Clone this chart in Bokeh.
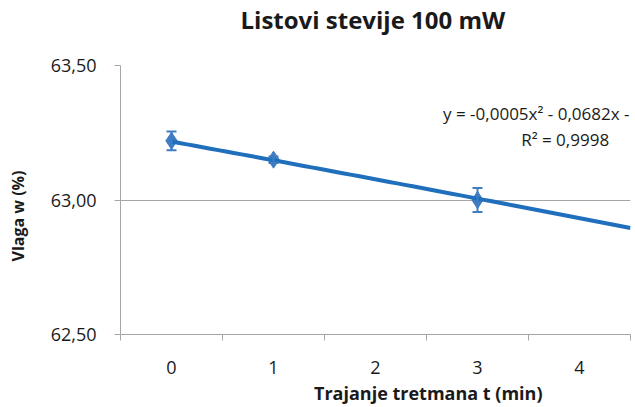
import numpy as np
from bokeh.plotting import figure
from bokeh.models import (Range1d, FixedTicker, ColumnDataSource, Whisker, TeeHead, Label, Title)
from bokeh.embed import file_html
from bokeh.resources import INLINE

# ---- data ----
t_min = [0, 1, 3]
moisture = [63.22, 63.15, 63.00]
moisture_err = [0.035, 0.012, 0.045]
x_categories = ["0", "1", "2", "3", "4"]
y_ticks = [62.5, 63.0, 63.5]
y_tick_labels = ["62,50", "63,00", "63,50"]
trend_a = -0.0005
trend_b = -0.0682
title_text = "Listovi stevije 100 mW"
x_title = "Trajanje tretmana t (min)"
y_title = "Vlaga w (%)"
eq_text = "y = -0,0005x\u00b2 - 0,0682x -"
r2_text = "R\u00b2 = 0,9998"

FONT = "Open Sans"
BLUE_LINE = "#1f6fbd"
BLUE_MARK = "#3f7cc2"
GRID = "#a6a6a6"
TXT = "#1a1a1a"

p = figure(width=635, height=407, output_backend="svg", toolbar_location=None,
           x_range=Range1d(-0.5, 4.5), y_range=Range1d(62.5, 63.5),
           min_border_left=120, min_border_right=5, min_border_top=65, min_border_bottom=0)
p.outline_line_color = None
p.background_fill_color = "white"
p.border_fill_color = "white"

# x axis: labels at category centres, tick marks at boundaries
cats = np.arange(len(x_categories))
p.xaxis.ticker = FixedTicker(ticks=list(cats), minor_ticks=list(np.arange(-0.5, len(x_categories), 1.0)))
p.xaxis.major_label_overrides = {int(i): s for i, s in zip(cats, x_categories)}
p.xaxis.major_tick_line_color = None
p.xaxis.major_tick_out = 0
p.xaxis.major_tick_in = 0
p.xaxis.minor_tick_line_color = GRID
p.xaxis.minor_tick_out = 6
p.xaxis.minor_tick_in = 0
p.xaxis.axis_line_color = GRID
p.xaxis.major_label_text_font = FONT
p.xaxis.major_label_text_font_size = "18px"
p.xaxis.major_label_text_color = TXT
p.xaxis.major_label_standoff = 20
p.xgrid.grid_line_color = None

p.yaxis.ticker = FixedTicker(ticks=y_ticks, minor_ticks=[])
p.yaxis.major_label_overrides = {float(v): s for v, s in zip(y_ticks, y_tick_labels)}
p.yaxis.major_tick_line_color = GRID
p.yaxis.major_tick_out = 6
p.yaxis.major_tick_in = 0
p.yaxis.axis_line_color = GRID
p.yaxis.major_label_text_font = FONT
p.yaxis.major_label_text_font_size = "18px"
p.yaxis.major_label_text_color = TXT
p.yaxis.major_label_standoff = 18
p.ygrid.grid_line_color = GRID
p.ygrid.grid_line_width = 1

src = ColumnDataSource(dict(
    t=t_min, w=moisture,
    upper=[w + e for w, e in zip(moisture, moisture_err)],
    lower=[w - e for w, e in zip(moisture, moisture_err)],
))

p.add_layout(Whisker(source=src, base="t", upper="upper", lower="lower",
                     line_color=BLUE_MARK, line_width=2,
                     upper_head=TeeHead(size=10, line_color=BLUE_MARK, line_width=2),
                     lower_head=TeeHead(size=10, line_color=BLUE_MARK, line_width=2),
                     level="glyph"))
p.scatter("t", "w", source=src, marker="diamond", size=17,
          fill_color=BLUE_MARK, line_color=BLUE_MARK)

# polynomial trendline (Excel category index = t + 1)
xi = np.array(t_min) + 1.0
trend_c = float(np.mean(np.array(moisture) - trend_a * xi**2 - trend_b * xi))
tt = np.linspace(0, 4.5, 60)
xx = tt + 1.0
p.line(tt, trend_a * xx**2 + trend_b * xx + trend_c, line_color=BLUE_LINE, line_width=4)

# titles (spacer titles keep the text away from the frame)
p.add_layout(Title(text=" ", text_font_size="1px", standoff=25), "above")
p.add_layout(Title(text=title_text, align="left", offset=120, vertical_align="top", standoff=0,
                   text_font=FONT, text_font_size="24px", text_font_style="bold",
                   text_color=TXT), "above")
p.add_layout(Title(text=x_title, align="right", offset=88, vertical_align="bottom", standoff=5,
                   text_font=FONT, text_font_size="18px", text_font_style="bold",
                   text_color=TXT), "below")
p.add_layout(Title(text=" ", text_font_size="1px", standoff=14), "left")
p.add_layout(Title(text=y_title, align="left", offset=73, vertical_align="top", standoff=0,
                   text_font=FONT, text_font_size="16px", text_font_style="bold",
                   text_color=TXT), "left")

# trendline equation
p.add_layout(Label(x=4.49, y=63.322, text=eq_text, text_align="right", text_baseline="middle",
                   text_font=FONT, text_font_size="17px", text_color=TXT))
p.add_layout(Label(x=3.859, y=63.226, text=r2_text, text_align="center", text_baseline="middle",
                   text_font=FONT, text_font_size="17px", text_color=TXT))

open("out.html", "w").write(file_html(p, INLINE))
